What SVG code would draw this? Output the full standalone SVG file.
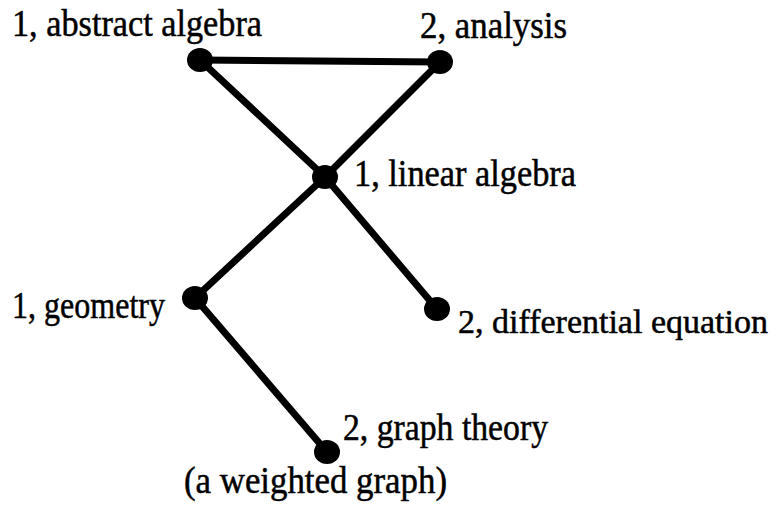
<svg xmlns="http://www.w3.org/2000/svg" width="779" height="518" viewBox="0 0 779 518">
<style>
.lbl{font-family:"Liberation Serif","Times New Roman",serif;font-size:37px;fill:#000;stroke:#000;stroke-width:0.5}
.edge{stroke:#000;stroke-width:7;stroke-linecap:round;fill:none}
.dot{fill:#000}
</style>
<rect width="779" height="518" fill="#fff"/>
<g id="connectors">
<line class="edge" x1="200" y1="60" x2="440" y2="62"/>
<line class="edge" x1="200" y1="60" x2="325" y2="177"/>
<line class="edge" x1="440" y1="62" x2="325" y2="177"/>
<line class="edge" x1="325" y1="177" x2="195" y2="298"/>
<line class="edge" x1="325" y1="177" x2="437" y2="309"/>
<line class="edge" x1="195" y1="298" x2="327" y2="452"/>
</g>
<g id="n-abstract"><ellipse class="dot" cx="200" cy="60" rx="13" ry="12"/><text class="lbl" x="12" y="36" textLength="250" lengthAdjust="spacingAndGlyphs">1, abstract algebra</text></g>
<g id="n-analysis"><ellipse class="dot" cx="440" cy="62" rx="13" ry="12"/><text class="lbl" x="420" y="38" textLength="147" lengthAdjust="spacingAndGlyphs">2, analysis</text></g>
<g id="n-linear"><ellipse class="dot" cx="325" cy="177" rx="13" ry="12"/><text class="lbl" x="354" y="186" textLength="222" lengthAdjust="spacingAndGlyphs">1, linear algebra</text></g>
<g id="n-geometry"><ellipse class="dot" cx="195" cy="298" rx="13" ry="12"/><text class="lbl" x="12" y="318" textLength="153" lengthAdjust="spacingAndGlyphs">1, geometry</text></g>
<g id="n-diffeq"><ellipse class="dot" cx="437" cy="309" rx="13" ry="12"/><text class="lbl" x="458" y="333" style="font-size:34px">2, differential equation</text></g>
<g id="n-graph"><ellipse class="dot" cx="327" cy="452" rx="13" ry="12"/><text class="lbl" x="343" y="440" textLength="205" lengthAdjust="spacingAndGlyphs">2, graph theory</text></g>
<text class="lbl" x="184" y="493" textLength="263" lengthAdjust="spacingAndGlyphs">(a weighted graph)</text>
</svg>
